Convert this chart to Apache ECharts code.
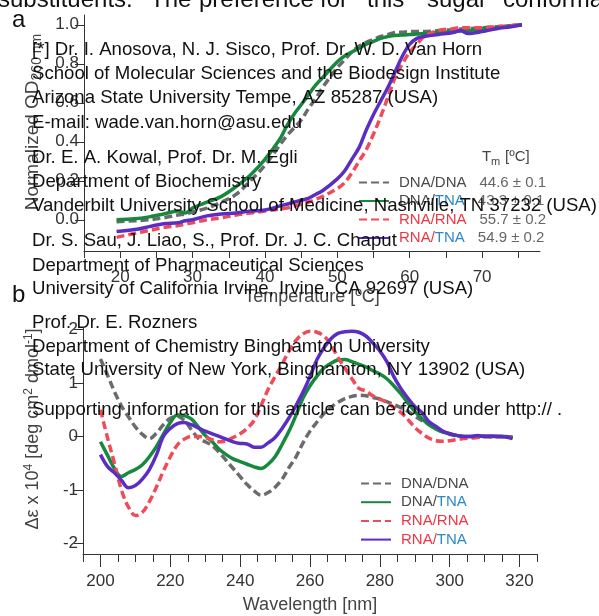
<!DOCTYPE html>
<html>
<head>
<meta charset="utf-8">
<title>Tm and CD spectra</title>
<script src="https://cdn.jsdelivr.net/npm/echarts/dist/echarts.min.js"></script>
<style>
    html, body { margin: 0; padding: 0; background: #fff; }
    #main { width: 599px; height: 616px; }
</style>
</head>
<body>
<div id="main"></div>
<script>
// ---------------- data: panel a (melting curves) ----------------
var tempA = [19.5, 22, 24, 26, 28, 29, 30, 32, 34, 36, 38, 40, 42, 43, 44, 45, 46, 47, 48, 50,
    51, 52, 53, 54, 55, 56, 57, 58, 59, 60, 61, 62, 64, 66, 67, 68, 70, 72, 74, 75.5];
var meltDnaDna = [-0.01, -0.005, 0.0, 0.01, 0.025, 0.03, 0.04, 0.06, 0.09, 0.13, 0.2, 0.28, 0.38, 0.43, 0.47, 0.51, 0.57, 0.62, 0.68, 0.78,
    0.82, 0.86, 0.89, 0.91, 0.925, 0.94, 0.95, 0.96, 0.962, 0.965, 0.965, 0.965, 0.97, 0.975, 0.978, 0.98, 0.985, 0.99, 0.995, 1.0];
var meltDnaTna = [0.0, 0.005, 0.015, 0.03, 0.045, 0.035, 0.06, 0.09, 0.12, 0.17, 0.23, 0.31, 0.41, 0.48, 0.54, 0.59, 0.64, 0.69, 0.73, 0.81,
    0.84, 0.86, 0.88, 0.9, 0.915, 0.93, 0.94, 0.945, 0.948, 0.95, 0.952, 0.955, 0.96, 0.965, 0.968, 0.97, 0.98, 0.985, 0.995, 1.0];
var meltRnaRna = [-0.09, -0.07, -0.055, -0.04, -0.03, -0.022, -0.015, 0.0, 0.01, 0.025, 0.035, 0.045, 0.055, 0.06, 0.07, 0.08, 0.09, 0.105, 0.12, 0.16,
    0.19, 0.24, 0.3, 0.36, 0.44, 0.53, 0.63, 0.73, 0.8, 0.86, 0.9, 0.94, 0.97, 0.98, 0.985, 0.985, 0.985, 0.99, 0.995, 1.0];
var meltRnaTna = [-0.06, -0.05, -0.035, -0.02, -0.015, -0.005, 0.0, 0.02, 0.03, 0.035, 0.045, 0.05, 0.07, 0.08, 0.09, 0.1, 0.11, 0.13, 0.15, 0.21,
    0.25, 0.31, 0.37, 0.46, 0.54, 0.61, 0.68, 0.76, 0.84, 0.9, 0.93, 0.94, 0.95, 0.96, 0.97, 0.955, 0.965, 0.98, 0.99, 1.0];
var tmValues = ['44.6 ± 0.1', '43.3 ± 0.1', '55.7 ± 0.2', '54.9 ± 0.2'];

// ---------------- data: panel b (CD spectra) ----------------
var waveB = [200, 202, 204, 206, 208, 210, 212, 214, 216, 218, 220, 222, 224, 226, 228, 230, 232, 234, 236, 238,
    240, 242, 244, 246, 248, 250, 252, 254, 256, 258, 260, 262, 264, 266, 268, 270, 272, 274, 276, 278,
    280, 282, 284, 286, 288, 290, 292, 294, 296, 298, 300, 302, 304, 306, 308, 310, 312, 314, 316, 318];
var cdDnaDna = [1.45, 1.15, 0.84, 0.57, 0.37, 0.18, 0.04, -0.04, 0.06, 0.22, 0.34, 0.38, 0.3, 0.13, -0.03, -0.1, -0.17, -0.3, -0.45, -0.6,
    -0.75, -0.9, -1.02, -1.1, -1.05, -0.95, -0.8, -0.58, -0.38, -0.12, 0.1, 0.27, 0.43, 0.55, 0.64, 0.71, 0.75, 0.77, 0.76, 0.73,
    0.7, 0.65, 0.6, 0.54, 0.47, 0.38, 0.3, 0.23, 0.16, 0.09, 0.04, 0.01, 0.0, -0.01, 0.0, 0.0, -0.01, 0.0, 0.0, -0.02];
var cdDnaTna = [-0.1, -0.35, -0.6, -0.75, -0.68, -0.62, -0.53, -0.38, -0.19, 0.04, 0.26, 0.4, 0.39, 0.33, 0.18, 0.02, -0.1, -0.24, -0.34, -0.42,
    -0.47, -0.52, -0.57, -0.6, -0.52, -0.38, -0.15, 0.1, 0.4, 0.72, 0.95, 1.13, 1.28, 1.37, 1.43, 1.44, 1.4, 1.35, 1.3, 1.23,
    1.17, 1.08, 0.95, 0.8, 0.63, 0.47, 0.34, 0.22, 0.14, 0.08, 0.05, 0.02, 0.0, 0.0, 0.0, 0.01, 0.0, 0.0, 0.0, -0.01];
var cdRnaRna = [0.5, -0.02, -0.5, -1.0, -1.32, -1.48, -1.42, -1.22, -0.95, -0.65, -0.38, -0.16, -0.05, 0.0, 0.0, -0.02, -0.06, -0.1, -0.08, -0.02,
    0.05, 0.15, 0.3, 0.58, 0.88, 1.12, 1.35, 1.6, 1.8, 1.92, 1.97, 1.95, 1.88, 1.72, 1.48, 1.28, 1.08, 0.9, 0.85, 0.76,
    0.7, 0.64, 0.54, 0.45, 0.32, 0.17, 0.06, -0.03, -0.08, -0.09, -0.08, -0.06, -0.04, -0.03, -0.02, 0.0, 0.0, 0.0, -0.01, -0.02];
var cdRnaTna = [-0.34, -0.56, -0.68, -0.82, -0.96, -0.92, -0.8, -0.62, -0.35, 0.0, 0.15, 0.24, 0.26, 0.22, 0.16, 0.1, 0.05, 0.0, -0.05, -0.1,
    -0.13, -0.14, -0.2, -0.2, -0.12, -0.02, 0.15, 0.35, 0.58, 0.83, 1.12, 1.44, 1.66, 1.83, 1.93, 1.96, 1.97, 1.95, 1.88, 1.75,
    1.6, 1.4, 1.12, 0.9, 0.72, 0.56, 0.45, 0.28, 0.19, 0.1, 0.05, 0.02, 0.0, 0.0, 0.02, 0.0, 0.01, 0.0, -0.01, -0.04];

// ---------------- series names / ticks ----------------
var seriesNames = ['DNA/DNA', 'DNA/TNA', 'RNA/RNA', 'RNA/TNA'];
var tempTicks = [15, 20, 25, 30, 35, 40, 45, 50, 55, 60, 65, 70, 75];
var tempLabels = [20, 30, 40, 50, 60, 70];
var odTicks = [0, 0.2, 0.4, 0.6, 0.8, 1.0];
var waveMajor = [200, 220, 240, 260, 280, 300, 320];
var waveMinor = [195, 200, 205, 210, 215, 220, 225, 230, 235, 240, 245, 250, 255, 260, 265, 270, 275, 280,
    285, 290, 295, 300, 305, 310, 315, 320, 325];
var cdTicks = [-2, -1, 0, 1, 2];

// ---------------- text laid over the figure ----------------
var topWords = ['substituents.', 'The', 'preference', 'for', 'this', 'sugar', 'conformation'];
var affiliations = [
    '[*] Dr. I. Anosova, N. J. Sisco, Prof. Dr. W. D. Van Horn',
    'School of Molecular Sciences and the Biodesign Institute',
    'Arizona State University Tempe, AZ 85287 (USA)',
    'E-mail: wade.van.horn@asu.edu',
    'Dr. E. A. Kowal, Prof. Dr. M. Egli',
    'Department of Biochemistry',
    'Vanderbilt University School of Medicine, Nashville, TN 37232 (USA)',
    'Dr. S. Sau, J. Liao, S., Prof. Dr. J. C. Chaput',
    'Department of Pharmaceutical Sciences',
    'University of California Irvine, Irvine, CA 92697 (USA)',
    'Prof. Dr. E. Rozners',
    'Department of Chemistry Binghamton University',
    'State University of New York, Binghamton, NY 13902 (USA)',
    'Supporting information for this article can be found under http:// .'
];

var FONT = '"Liberation Sans", Arial, sans-serif';

var Figure = function () {

    //线条样式
    var colors = ['#6b6b6b', '#16893e', '#f04b58', '#5b2dc4'];
    var dashed = [true, false, true, false];
    // 页面排版位置
    var topWordX = [-2, 150, 199, 320, 367, 427, 503];
    var affilY = [50, 74, 98, 123, 158, 182, 206, 241, 266, 289, 323, 347, 370, 410];

    var pairs = function (xs, ys) {
        var out = [];
        for (var i = 0; i < xs.length; i++) {
            out.push([xs[i], ys[i]]);
        }
        return out;
    };

    //图例名称：DNA 灰, RNA 红, TNA 蓝
    var legendName = function (name) {
        var parts = name.split('/');
        var key = function (p) { return p === 'TNA' ? 't' : (p === 'RNA' ? 'r' : 'd'); };
        return '{p| }{' + key(parts[0]) + '|' + parts[0] + '/}{' + key(parts[1]) + '|' + parts[1] + '}';
    };

    var legendRich = function () {
        var base = {fontSize: 15, fontFamily: FONT};
        return {
            p: {width: 5},
            d: Object.assign({color: '#4a4a4a'}, base),
            r: Object.assign({color: '#ee3742'}, base),
            t: Object.assign({color: '#2d88c9'}, base),
            s: {width: 13},
            v: Object.assign({color: '#666666'}, base)
        };
    };

    var makeSeries = function (xAxisIndex, yAxisIndex, xs, sets) {
        var list = [];
        for (var i = 0; i < sets.length; i++) {
            list.push({
                name: seriesNames[i],
                type: 'line',
                xAxisIndex: xAxisIndex,
                yAxisIndex: yAxisIndex,
                data: pairs(xs, sets[i]),
                symbol: 'none',
                smooth: 0.35,
                itemStyle: {color: colors[i]},
                lineStyle: {color: colors[i], width: 3.5, type: dashed[i] ? [8, 4] : 'solid'}
            });
        }
        return list;
    };

    var axisColor = '#333';
    //图例不画圆点
    var hiddenSymbol = {color: 'rgba(0,0,0,0)', borderWidth: 0, opacity: 0};

    var initCharts = function () {
        var myChart = echarts.init(document.getElementById('main'));

        var graphic = [];
        // 顶部被裁切的正文
        for (var w = 0; w < topWords.length; w++) {
            graphic.push({type: 'text', x: topWordX[w], y: 0, z: 100,
                style: {text: topWords[w], fontSize: 24, fontFamily: FONT, fill: '#111', verticalAlign: 'middle'}});
        }
        for (var k = 0; k < affiliations.length; k++) {
            graphic.push({type: 'text', x: 32, y: affilY[k], z: 100,
                style: {text: affiliations[k], fontSize: 18.6, fontFamily: FONT, fill: '#111', verticalAlign: 'middle'}});
        }
        graphic.push({type: 'text', x: 12, y: 20, z: 100,
            style: {text: 'a', fontSize: 24, fontFamily: FONT, fill: '#111', verticalAlign: 'middle'}});
        graphic.push({type: 'text', x: 12, y: 295, z: 100,
            style: {text: 'b', fontSize: 24, fontFamily: FONT, fill: '#111', verticalAlign: 'middle'}});
        // Tm 表头
        graphic.push({type: 'text', x: 482, y: 157, z: 100,
            style: {text: 'T', fontSize: 15, fontFamily: FONT, fill: '#444', verticalAlign: 'middle'}});
        graphic.push({type: 'text', x: 491, y: 162, z: 100,
            style: {text: 'm', fontSize: 11, fontFamily: FONT, fill: '#444', verticalAlign: 'middle'}});
        graphic.push({type: 'text', x: 505, y: 157, z: 100,
            style: {text: '[ºC]', fontSize: 15, fontFamily: FONT, fill: '#444', verticalAlign: 'middle'}});

        var option = {
            animation: false,
            textStyle: {fontFamily: FONT},
            grid: [
                {left: 84, top: 15, width: 456, height: 236},
                {left: 83, top: 328, width: 454, height: 226}
            ],
            legend: [
                {   //熔解曲线图例，带 Tm
                    orient: 'vertical', left: 358, top: 175, padding: 0,
                    itemWidth: 30, itemHeight: 14, itemGap: 3.5,
                    data: seriesNames,
                    itemStyle: hiddenSymbol,
                    formatter: function (name) {
                        return legendName(name) + '{s| }{v|' + tmValues[seriesNames.indexOf(name)] + '}';
                    },
                    textStyle: {fontSize: 15, rich: legendRich()}
                },
                {
                    orient: 'vertical', left: 360, top: 476, padding: 0,
                    itemWidth: 30, itemHeight: 14, itemGap: 3.7,
                    data: seriesNames,
                    itemStyle: hiddenSymbol,
                    formatter: legendName,
                    textStyle: {fontSize: 15, rich: legendRich()}
                }
            ],
            xAxis: [
                {
                    type: 'value', gridIndex: 0, min: 15, max: 78,
                    axisLine: {onZero: false, lineStyle: {color: axisColor, width: 1}},
                    axisTick: {customValues: tempTicks, length: 7, lineStyle: {color: axisColor}},
                    axisLabel: {customValues: tempLabels, fontSize: 17, color: '#333', margin: 18},
                    splitLine: {show: false},
                    name: 'Temperature [ºC]', nameLocation: 'middle', nameGap: 37,
                    nameTextStyle: {fontSize: 18, color: '#444'}
                },
                {
                    type: 'value', gridIndex: 1, min: 195, max: 325, position: 'bottom',
                    axisLine: {onZero: false, lineStyle: {color: axisColor, width: 1}},
                    axisTick: {customValues: waveMajor, length: 13, lineStyle: {color: axisColor}},
                    axisLabel: {customValues: waveMajor, fontSize: 17, color: '#333', margin: 19},
                    splitLine: {show: false},
                    name: 'Wavelength [nm]', nameLocation: 'middle', nameGap: 42,
                    nameTextStyle: {fontSize: 18, color: '#444'}
                },
                {   //次刻度
                    type: 'value', gridIndex: 1, min: 195, max: 325, position: 'bottom', offset: 0,
                    axisLine: {show: false, onZero: false},
                    axisTick: {show: true, customValues: waveMinor, length: 8, lineStyle: {color: axisColor}},
                    axisLabel: {show: false},
                    splitLine: {show: false}
                }
            ],
            yAxis: [
                {
                    type: 'value', gridIndex: 0, min: -0.16, max: 1.05,
                    axisLine: {show: true, onZero: false, lineStyle: {color: axisColor, width: 1}},
                    axisTick: {show: true, customValues: odTicks, length: 9, lineStyle: {color: axisColor}},
                    axisLabel: {customValues: odTicks, fontSize: 17, color: '#333', margin: 5,
                        formatter: function (v) { return v.toFixed(1); }},
                    splitLine: {show: false},
                    name: '{a|Normalized OD}{b|260 nm}', nameLocation: 'middle', nameGap: 40,
                    nameTextStyle: {
                        color: '#444', padding: [0, 0, 0, 22],
                        rich: {
                            a: {fontSize: 19, color: '#444', fontFamily: FONT},
                            b: {fontSize: 14, color: '#444', fontFamily: FONT, padding: [8, 0, 0, 0]}
                        }
                    }
                },
                {
                    type: 'value', gridIndex: 1, min: -2.2, max: 2.03,
                    axisLine: {show: true, onZero: false, lineStyle: {color: axisColor, width: 1}},
                    axisTick: {show: true, customValues: cdTicks, length: 9, lineStyle: {color: axisColor}},
                    axisLabel: {customValues: cdTicks, fontSize: 17, color: '#333', margin: 5},
                    splitLine: {show: false},
                    name: '{a|Δε x 10}{s|4}{a| [deg cm}{s|2}{a| dmol}{s|-1}{a|]}',
                    nameLocation: 'middle', nameGap: 40,
                    nameTextStyle: {
                        color: '#444', padding: [0, 0, 0, 24],
                        rich: {
                            a: {fontSize: 18, color: '#444', fontFamily: FONT},
                            s: {fontSize: 12, color: '#444', fontFamily: FONT, padding: [0, 0, 8, 0]}
                        }
                    }
                }
            ],
            series: makeSeries(0, 0, tempA, [meltDnaDna, meltDnaTna, meltRnaRna, meltRnaTna])
                .concat(makeSeries(1, 1, waveB, [cdDnaDna, cdDnaTna, cdRnaRna, cdRnaTna])),
            graphic: graphic
        };

        myChart.setOption(option);
    };

    return {
        init: function () {
            initCharts();
        }
    };
}();

Figure.init();
</script>
</body>
</html>
